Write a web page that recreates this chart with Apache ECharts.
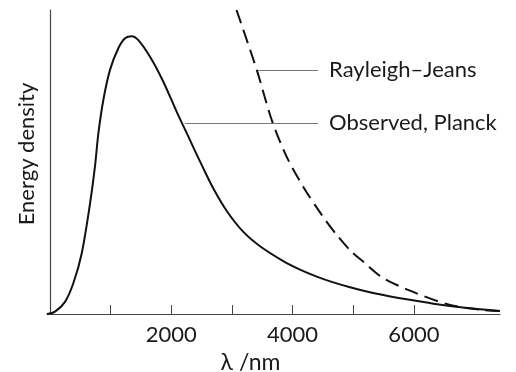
<!DOCTYPE html>
<html>
<head>
<meta charset="UTF-8">
<title>Planck vs Rayleigh-Jeans</title>
<script src="https://cdn.jsdelivr.net/npm/echarts@6/dist/echarts.min.js"></script>
<style>
  html, body { margin: 0; padding: 0; background: #fff; }
  #main { width: 516px; height: 372px; }
</style>
</head>
<body>
<div id="main"></div>
<script>
// wavelength (nm) and energy density (arbitrary units, 0-100)
var planckX = [-50, 82, 247, 384, 523, 660, 742, 797, 879, 989, 1126, 1237, 1347, 1456, 1649, 1868, 2089, 2276, 2363, 2528, 2693, 2914, 3188, 3463, 3847, 4122, 4398, 4672, 4947, 5223, 5553, 5772, 6321, 6872, 7420];
var planckY = [0, 0.8, 4.0, 10.1, 20.0, 36.4, 48.7, 59.4, 70.4, 80.3, 87.4, 90.7, 91.4, 90.1, 84.6, 76.4, 66.5, 58.6, 54.8, 47.9, 41.3, 33.9, 27.0, 22.3, 17.4, 14.6, 12.3, 10.4, 8.8, 7.4, 6.0, 5.2, 3.4, 2.0, 1.0];

var rjX = [3075, 3409, 3656, 3903, 4177, 4480, 4728, 4975, 5166, 5496, 6047, 6596, 7145, 7420];
var rjY = [100, 80.3, 63.8, 51.7, 41.8, 32.6, 26.0, 20.4, 17.2, 11.8, 6.8, 3.0, 1.3, 1.0];

var tickValues = [1000, 2000, 3000, 4000, 5000, 6000];
var labelValues = [2000, 4000, 6000];

// leader lines for the two labels: [fromX, toX, y]
var rjLeader = [3425, 4420, 80.3];
var planckLeader = [2226, 4420, 62.8];

function pairs(xs, ys) {
  var out = [];
  for (var i = 0; i < xs.length; i++) out.push([xs[i], ys[i]]);
  return out;
}

var font = 'Lato, "Open Sans", sans-serif';
var ink = '#1a1a1a';
var chart = echarts.init(document.getElementById('main'));

function leader(l, text) {
  return {
    silent: true,
    symbol: ['none', 'none'],
    lineStyle: { color: '#777', width: 1, type: 'solid' },
    label: {
      show: true, position: 'end', distance: 11, formatter: text,
      color: ink, fontSize: 22, fontFamily: font
    },
    data: [[{ coord: [l[0], l[2]] }, { coord: [l[1], l[2]] }]]
  };
}

chart.setOption({
  animation: false,
  grid: { left: 47, right: 16, top: 10, bottom: 58, containLabel: false, outerBoundsMode: 'none' },
  xAxis: {
    type: 'value', min: -50, max: 7420,
    name: 'λ /nm', nameLocation: 'middle', nameGap: 37,
    nameTextStyle: { color: ink, fontSize: 23, fontFamily: font, padding: [0, 46, 0, 0] },
    axisLine: { show: true, lineStyle: { color: '#444', width: 1.2 } },
    axisTick: { show: true, inside: true, length: 9, customValues: tickValues, lineStyle: { color: '#444' } },
    axisLabel: {
      customValues: labelValues, margin: 10, color: ink, fontSize: 22, fontFamily: font,
      formatter: function (v) { return String(v); }
    },
    splitLine: { show: false }
  },
  yAxis: {
    type: 'value', min: 0, max: 100,
    name: 'Energy density', nameLocation: 'middle', nameGap: 9,
    nameTextStyle: { color: ink, fontSize: 22, fontFamily: font, padding: [0, 0, 0, 16] },
    axisLine: { show: true, lineStyle: { color: '#444', width: 1.2 } },
    axisTick: { show: false },
    axisLabel: { show: false },
    splitLine: { show: false }
  },
  series: [
    {
      name: 'Observed, Planck', type: 'line', smooth: 0.3, showSymbol: false,
      lineStyle: { color: '#111', width: 2 },
      data: pairs(planckX, planckY),
      markLine: leader(planckLeader, 'Observed, Planck')
    },
    {
      name: 'Rayleigh–Jeans', type: 'line', smooth: 0.3, showSymbol: false,
      lineStyle: { color: '#111', width: 2, type: [14, 7] },
      data: pairs(rjX, rjY),
      markLine: leader(rjLeader, 'Rayleigh–Jeans')
    }
  ]
});
</script>
</body>
</html>
